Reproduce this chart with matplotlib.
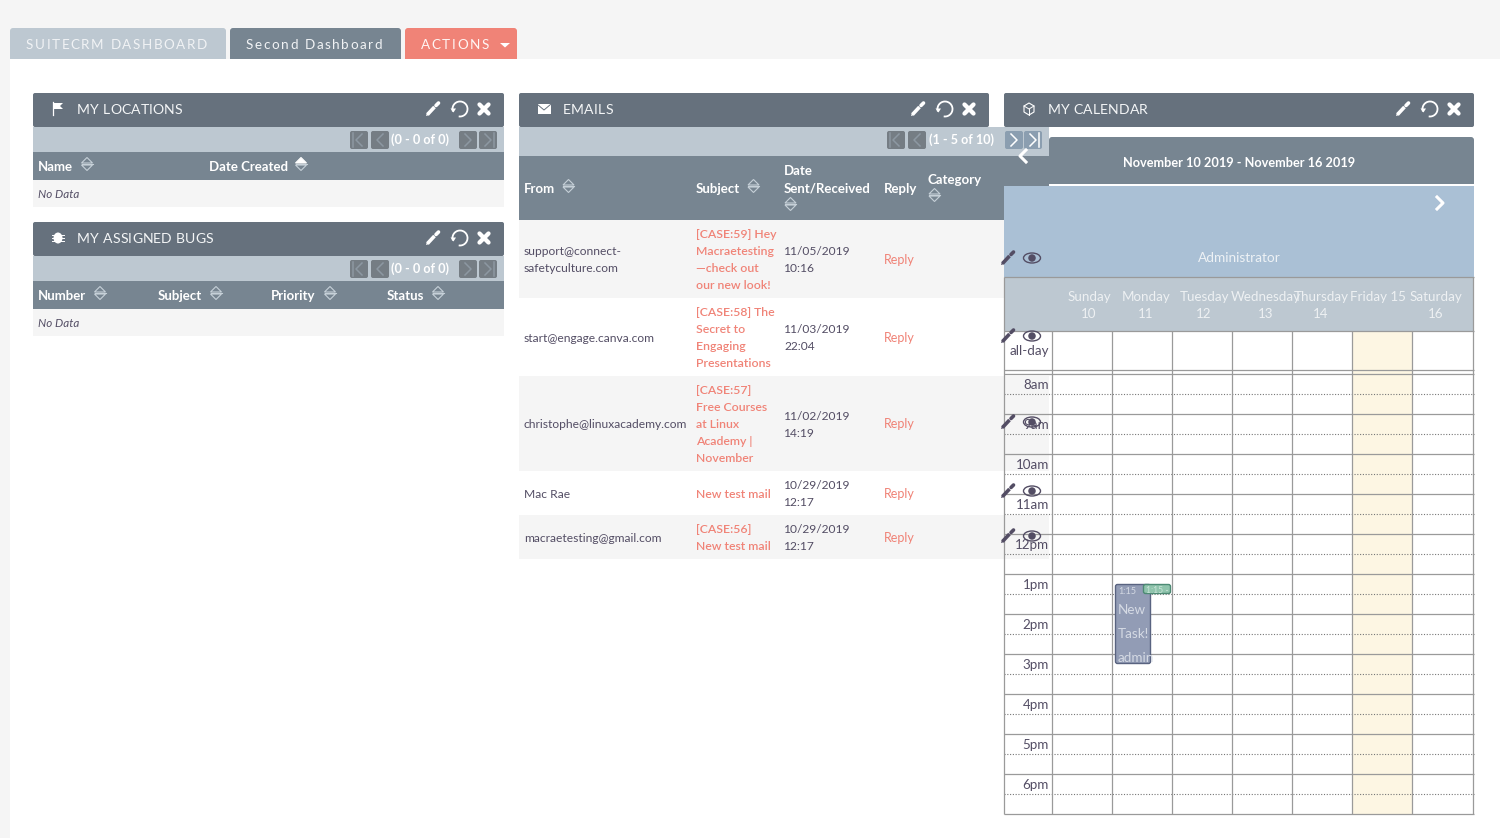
import matplotlib
matplotlib.use('Agg')
import matplotlib.pyplot as plt
from matplotlib.font_manager import FontProperties
from matplotlib.patches import FancyBboxPatch, Rectangle, Ellipse, Polygon, Arc

plt.rcParams['font.family'] = ['Lato', 'DejaVu Sans']

DARK = '#66717d'
MID = '#778591'
LIGHT = '#bdc8d1'
STRIPE = '#f5f5f5'
CORAL = '#f08377'
BODY = '#534d64'
BLUE = '#aac0d5'
GRID = '#9a9a9a'

TABS = ['SUITECRM DASHBOARD', 'Second Dashboard', 'ACTIONS']

LOCATION_COLS = ['Name', 'Date Created']
BUG_COLS = ['Number', 'Subject', 'Priority', 'Status']
NO_DATA = 'No Data'

EMAIL_FROM = [['support@connect-', 'safetyculture.com'],
              ['start@engage.canva.com'],
              ['christophe@linuxacademy.com'],
              ['Mac Rae'],
              ['macraetesting@gmail.com']]
EMAIL_SUBJECT = [['[CASE:59] Hey', 'Macraetesting', '—check out', 'our new look!'],
                 ['[CASE:58] The', 'Secret to', 'Engaging', 'Presentations'],
                 ['[CASE:57]', 'Free Courses', 'at Linux', 'Academy |', 'November'],
                 ['New test mail'],
                 ['[CASE:56]', 'New test mail']]
EMAIL_DATE = [['11/05/2019', '10:16'], ['11/03/2019', '22:04'], ['11/02/2019', '14:19'],
              ['10/29/2019', '12:17'], ['10/29/2019', '12:17']]
EMAIL_ROWS = [220, 298, 376, 471, 515, 559]

DAY_NAMES = ['Sunday', 'Monday', 'Tuesday', 'Wednesday', 'Thursday', 'Friday 15', 'Saturday']
DAY_NUMS = ['10', '11', '12', '13', '14', '', '16']
DAY_CENTERS = [1089, 1146, 1204, 1266, 1321, 1378, 1436]
GRID_X = [1004, 1052, 1112, 1172, 1232, 1292, 1352, 1412, 1473]
HOURS = ['8am', '9am', '10am', '11am', '12pm', '1pm', '2pm', '3pm', '4pm', '5pm', '6pm']

fig = plt.figure(figsize=(15, 8.38), dpi=100)
ax = fig.add_axes([0, 0, 1, 1])
ax.set_xlim(0, 1500)
ax.set_ylim(838, 0)
ax.axis('off')
renderer = fig.canvas.get_renderer()


def rect(x0, y0, x1, y1, color, z=1, **kw):
    ax.add_patch(Rectangle((x0, y0), x1 - x0, y1 - y0, fc=color, ec='none', lw=0, zorder=z, **kw))


def rrect(x0, y0, x1, y1, color, r=2, z=1, ec='none', lw=0):
    ax.add_patch(FancyBboxPatch((x0 + r, y0 + r), x1 - x0 - 2 * r, y1 - y0 - 2 * r,
                                boxstyle=f'round,pad={r},rounding_size={r}',
                                fc=color, ec=ec, lw=lw, zorder=z))


def txt(x, y, s, size=9.3, color=BODY, weight='normal', ha='left', z=5, style='normal', **kw):
    return ax.text(x, y, s, fontsize=size, color=color, fontweight=weight, ha=ha, va='baseline',
                   zorder=z, fontstyle=style, **kw)


def spaced(x, y, s, size, color, gap, z=5):
    # no letter-spacing in matplotlib, so place the glyphs one at a time
    prop = FontProperties(family='Lato', size=size)
    for i, ch in enumerate(s):
        w = renderer.get_text_width_height_descent(s[:i], prop, False)[0] if i else 0
        ax.text(x + w + i * gap, y, ch, fontproperties=prop, color=color, va='baseline', zorder=z)


def pencil(x, y, color='white', z=6):
    ax.plot([x - 5.5, x + 1.5], [y + 5.5, y - 2], color=color, lw=2.6, solid_capstyle='butt', zorder=z)
    ax.plot([x + 3, x + 5.5], [y - 3.5, y - 6], color=color, lw=2.6, solid_capstyle='round', zorder=z)
    ax.add_patch(Polygon([[x - 7, y + 7], [x - 6, y + 3.5], [x - 3.5, y + 6]], fc=color, ec='none', zorder=z))


def undo(x, y, color='white'):
    ax.add_patch(Arc((x + 1, y), 15, 15, theta1=-200, theta2=100, color=color, lw=1.3, zorder=6))
    ax.add_patch(Polygon([[x - 8.5, y - 0.5], [x - 3, y - 0.5], [x - 5.5, y + 3.5]], fc=color, ec='none', zorder=6))


def cross(x, y, color='white'):
    ax.plot([x - 4.5, x + 4.5], [y - 4.5, y + 4.5], color=color, lw=3.1, solid_capstyle='round', zorder=6)
    ax.plot([x - 4.5, x + 4.5], [y + 4.5, y - 4.5], color=color, lw=3.1, solid_capstyle='round', zorder=6)


def eye(x, y, z=6):
    ax.add_patch(Ellipse((x, y), 17, 10, fc='none', ec=BODY, lw=1, zorder=z))
    ax.add_patch(Ellipse((x, y), 7.5, 7.5, fc=BODY, ec='none', zorder=z))


def sort_icon(x, y, top_filled=False, color='#c6d0d8'):
    ax.plot([x - 5.5, x + 5.5], [y, y], color=color, lw=0.8, zorder=5)
    ax.add_patch(Polygon([[x - 5.5, y - 1], [x + 5.5, y - 1], [x, y - 6.5]],
                         fc='white' if top_filled else 'none', ec='white' if top_filled else color, lw=0.8, zorder=5))
    ax.add_patch(Polygon([[x - 5.5, y + 1], [x + 5.5, y + 1], [x, y + 6.5]],
                         fc='none', ec=color, lw=0.8, zorder=5))


def pager_btn(x, y, kind, color='#757d84', line='#8d98a2', z=5):
    rrect(x, y, x + 18, y + 18, color, r=2, z=z)
    cx = x + 9
    cy = y + 9
    if kind in ('first', 'prev'):
        xs = [cx + 3, cx - 3, cx + 3]
        bar = cx - 6
    else:
        xs = [cx - 3, cx + 3, cx - 3]
        bar = cx + 6
    ax.plot(xs, [cy - 6, cy, cy + 6], color=line, lw=1.1, zorder=z + 1)
    if kind in ('first', 'last'):
        ax.plot([bar, bar], [cy - 7, cy + 7], color=line, lw=1.1, zorder=z + 1)


def panel_header(x0, x1, y, title, title_x):
    rrect(x0, y, x1, y + 34, DARK, r=2, z=2)
    spaced(title_x, y + 21, title, 10.1, '#f4f6f7', 0.15)
    offs = x1 - 71
    pencil(offs, y + 16)
    undo(offs + 26, y + 16)
    cross(offs + 51, y + 16)


def small_table(y, columns, col_x, sort_x, label, filled=None):
    rect(33, y + 34, 504, y + 59, LIGHT, z=2)
    pager_btn(350, y + 38, 'first')
    pager_btn(371, y + 38, 'prev')
    txt(391, y + 51, label, size=9.1, color='white', weight='bold')
    pager_btn(459, y + 38, 'next')
    pager_btn(479, y + 38, 'last')
    rect(33, y + 59, 504, y + 87, MID, z=2)
    for c, cx, sx in zip(columns, col_x, sort_x):
        txt(cx, y + 78, c, size=9.5, color='white', weight='bold')
        sort_icon(sx, y + 71, top_filled=(c == filled))
    rect(33, y + 87, 504, y + 114, STRIPE, z=2)
    txt(38, y + 105, NO_DATA, size=8.4, style='italic')


# page background
fig.patch.set_facecolor('white')
rect(0, 0, 1500, 59, STRIPE, z=0)
rect(0, 59, 10, 838, STRIPE, z=0)

# tabs
rrect(10, 28, 226, 62, LIGHT, r=3, z=1)
rrect(230, 28, 401, 62, MID, r=3, z=1)
rrect(405, 28, 517, 62, CORAL, r=3, z=1)
rect(10, 59, 1500, 63, 'white', z=1)
spaced(26, 49, TABS[0], 9.7, '#f1f3f5', 1.55)
spaced(246, 49, TABS[1], 9.7, '#f1f3f5', 1.55)
spaced(421, 49, TABS[2], 9.7, '#fff6f4', 1.55)
ax.add_patch(Polygon([[500, 43], [510, 43], [505, 47.5]], fc='white', ec='none', zorder=5))

# left panels
panel_header(33, 504, 93, 'MY LOCATIONS', 77)
ax.plot([52.5, 52.5], [102, 115], color='white', lw=0.9, zorder=6)
ax.add_patch(Polygon([[54, 103], [63, 103], [60, 106], [63, 109], [54, 109]], fc='white', ec='none', zorder=6))
small_table(93, LOCATION_COLS, [38, 209], [87, 301], '(0 - 0 of 0)', filled='Date Created')

panel_header(33, 504, 222, 'MY ASSIGNED BUGS', 77)
ax.add_patch(Ellipse((58, 238), 9, 11, fc='white', ec='none', zorder=6))
for dy in (-3, 0, 3):
    ax.plot([52, 64], [238 + dy, 238 + dy], color='white', lw=0.7, zorder=6)
small_table(222, BUG_COLS, [38, 158, 271, 387], [100, 216, 330, 438], '(0 - 0 of 0)')

# emails panel
panel_header(519, 989, 93, 'EMAILS', 563)
rect(537.5, 104, 550.5, 114, 'white', z=6)
ax.plot([537.5, 544, 550.5], [104.5, 110, 104.5], color=DARK, lw=0.7, zorder=7)
rect(519, 127, 1049, 156, LIGHT, z=2)
pager_btn(887, 131, 'first')
pager_btn(908, 131, 'prev')
txt(929, 143.5, '(1 - 5 of 10)', size=9.1, color='white', weight='bold')
pager_btn(1005, 131, 'next', color='#8b9eb0', line='white', z=7)
pager_btn(1024, 131, 'last', color='#8b9eb0', line='white', z=7)
rect(519, 156, 1049, 220, MID, z=2)
for label, x in [('From', 524), ('Subject', 696), ('Sent/Received', 784), ('Reply', 884)]:
    txt(x, 192.5, label, size=9.5, color='white', weight='bold')
txt(784, 175, 'Date', size=9.5, color='white', weight='bold')
txt(928, 184, 'Category', size=9.5, color='white', weight='bold')
sort_icon(568.5, 186)
sort_icon(753.5, 186)
sort_icon(790.5, 204)
sort_icon(934.5, 195)

for i in range(5):
    top, bot = EMAIL_ROWS[i], EMAIL_ROWS[i + 1]
    rect(519, top, 1049, bot, STRIPE if i % 2 == 0 else 'white', z=2)
    mid = (top + bot) / 2
    for lines, x, color in [(EMAIL_FROM[i], 524, BODY), (EMAIL_SUBJECT[i], 696, CORAL), (EMAIL_DATE[i], 784, BODY)]:
        start = mid - (len(lines) - 1) * 8.5
        for j, line in enumerate(lines):
            txt(x, start + j * 17 + 4.5, line, size=8.65 if color == BODY else 8.8, color=color,
                weight='semibold' if color == CORAL else 'normal')
    txt(884, mid + 4.5, 'Reply', size=9.0, color=CORAL)

# calendar panel
panel_header(1004, 1474, 93, 'MY CALENDAR', 1048)
ax.add_patch(Polygon([[1029, 103], [1034, 106], [1034, 112], [1029, 115], [1024, 112], [1024, 106]],
                     fc='none', ec='white', lw=0.8, zorder=6))
ax.plot([1024, 1029, 1034], [106, 109, 106], color='white', lw=0.7, zorder=6)
ax.plot([1029, 1029], [109, 115], color='white', lw=0.7, zorder=6)

rrect(1049, 137, 1474, 189, MID, r=3, z=3)
rect(1049, 184.5, 1474, 186, 'white', z=3)
txt(1239.5, 167, 'November 10 2019 - November 16 2019', size=9.2, color='white', weight='bold', ha='center')
ax.plot([1026, 1020, 1026], [150, 156, 162], color='white', lw=2.2, zorder=7)

rect(1004, 186, 1474, 277, BLUE, z=3)
ax.plot([1437, 1443, 1437], [197, 203, 209], color='white', lw=2.2, zorder=7)
txt(1239, 262, 'Administrator', size=9.8, color='#eef2f5', ha='center')

rect(1004, 277, 1474, 331, LIGHT, z=3)
for name, num, cx in zip(DAY_NAMES, DAY_NUMS, DAY_CENTERS):
    txt(cx, 301, name, size=9.6, color='#eef1f3', ha='center')
    if num:
        txt(cx, 318, num, size=9.6, color='#eef1f3', ha='center')

# calendar grid
rect(1352, 331, 1412, 814, '#fdf6e3', z=3)
rect(1004, 331, 1049, 371, 'white', z=3)
for i, h in enumerate(HOURS):
    y = 374 + i * 40
    ax.plot([1004, 1474], [y, y], color=GRID, lw=0.9, zorder=4, solid_capstyle='butt')
    ax.plot([1004, 1474], [y + 20, y + 20], color='#777777', lw=0.8, ls=(0, (1, 1.5)), zorder=4)
    txt(1049, y + 15, h, size=9.6, ha='right', z=5)
for y in (277, 331, 370.5, 814):
    ax.plot([1004, 1474], [y, y], color=GRID, lw=0.9, zorder=4, solid_capstyle='butt')
for i, x in enumerate(GRID_X):
    if i == 0 or i == len(GRID_X) - 1:
        ax.plot([x, x], [277, 814], color=GRID, lw=0.9, zorder=4, solid_capstyle='butt')
    else:
        ax.plot([x, x], [331, 814], color=GRID, lw=0.9, zorder=4, solid_capstyle='butt')
txt(1049, 355, 'all-day', size=9.6, ha='right')

# event
rrect(1115.5, 584.5, 1150.5, 663.5, '#929cb5', r=2, z=6, ec='#596380', lw=1)
rrect(1143.5, 584.5, 1170.5, 593.5, '#8fc4ac', r=2, z=7, ec='#4d8a74', lw=1)
txt(1118, 594, '1:15', size=6.6, color='#d5dae4', z=7)
txt(1146, 592.8, '1:15 -', size=6.2, color='#c9e4d8', z=8)
for s, y in zip(['New', 'Task!'], [614, 638]):
    txt(1118, y, s, size=9.7, color='#d5dae4', z=7)
admin = txt(1118, 662, 'admin', size=9.7, color='#d5dae4', z=7)
admin.set_clip_path(Rectangle((1115, 640), 35, 24, transform=ax.transData))

# edit/eye icons sitting over the calendar rows
for y in (258, 336, 422, 491, 536):
    pencil(1008, y, color=BODY, z=8)
    eye(1032, y, z=8)

fig.savefig('out.png', dpi=100, facecolor='white')
plt.close(fig)
